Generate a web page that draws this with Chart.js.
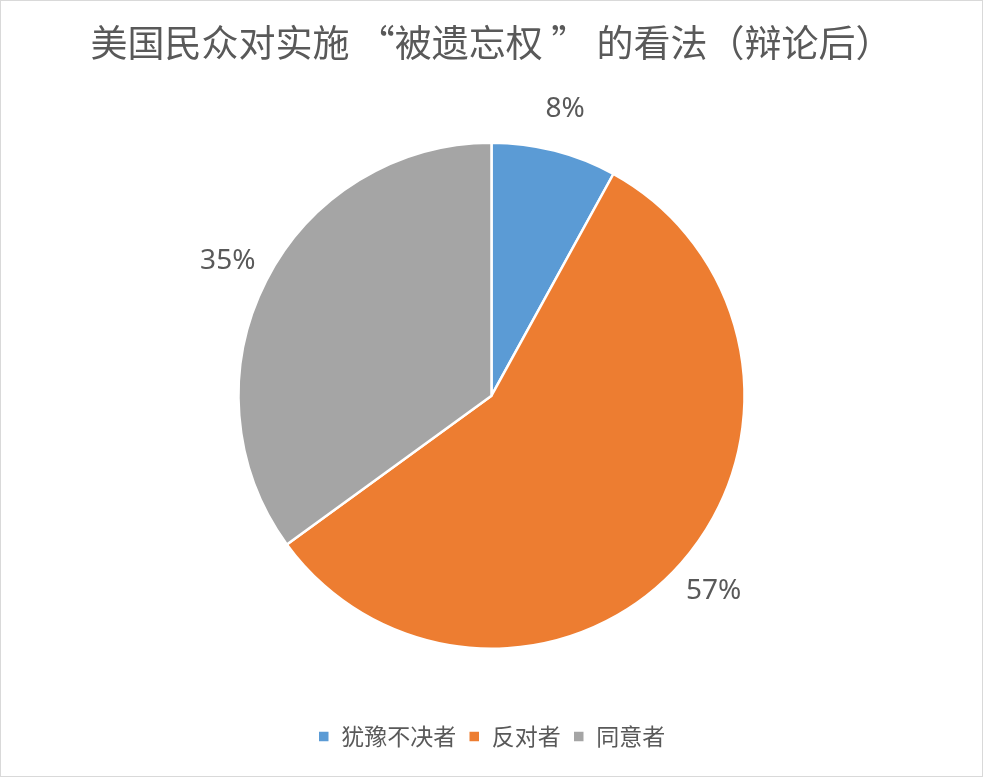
<!DOCTYPE html>
<html>
<head>
<meta charset="utf-8">
<script src="https://cdn.jsdelivr.net/npm/chart.js@4/dist/chart.umd.min.js"></script>
<style>
  html,body{margin:0;padding:0;background:#fff;}
  #wrap{width:983px;height:777px;box-sizing:border-box;border:1px solid #d9d9d9;background:#fff;}
</style>
</head>
<body>
<div id="wrap"><canvas id="pieChart"></canvas></div>
<script>
// data
const categories = ['犹豫不决者', '反对者', '同意者'];
const shares     = [8, 57, 35];
const colors     = ['#5B9BD5', '#ED7D31', '#A5A5A5'];
const titleText  = '美国民众对实施 “被遗忘权 ” 的看法（辩论后）';

const FONT = '"Noto Sans CJK SC","Noto Sans",sans-serif';
const GREY = '#595959';

// percent labels sitting just outside each slice
const outLabels = {
  id:'outLabels',
  afterDatasetsDraw(chart) {
    const ctx = chart.ctx;
    const meta = chart.getDatasetMeta(0);
    ctx.save();
    ctx.font = '28px "Noto Sans",sans-serif';
    ctx.fillStyle = GREY;
    ctx.textAlign = 'center';
    ctx.textBaseline = 'middle';
    meta.data.forEach((arc, i) => {
      const {x, y, startAngle, endAngle, outerRadius} = arc.getProps(['x','y','startAngle','endAngle','outerRadius'], true);
      const mid = (startAngle + endAngle) / 2;
      const r = outerRadius + 43;
      ctx.fillText(shares[i] + '%', x + Math.cos(mid) * r, y + Math.sin(mid) * r);
    });
    ctx.restore();
  }
};

new Chart(document.getElementById('pieChart'), {
  type:'pie',
  plugins:[outLabels],
  data:{
    labels:categories,
    datasets:[{
      data:shares,
      backgroundColor:colors,
      borderColor:'#fff',
      borderWidth:2.5,
      radius:253,
      hoverOffset:0
    }]
  },
  options:{
    responsive:true, maintainAspectRatio:false, animation:false,
    layout:{padding:{top:0, bottom:18, left:0, right:0}},
    plugins:{
      title:{display:true, text:titleText, color:GREY,
             font:{family:FONT, size:37, weight:'normal'},
             padding:{top:20, bottom:13}},
      legend:{position:'bottom',
              labels:{color:GREY, font:{family:FONT, size:23},
                      boxWidth:12, boxHeight:12, padding:12}},
      tooltip:{enabled:false}
    }
  }
});
</script>
</body>
</html>
